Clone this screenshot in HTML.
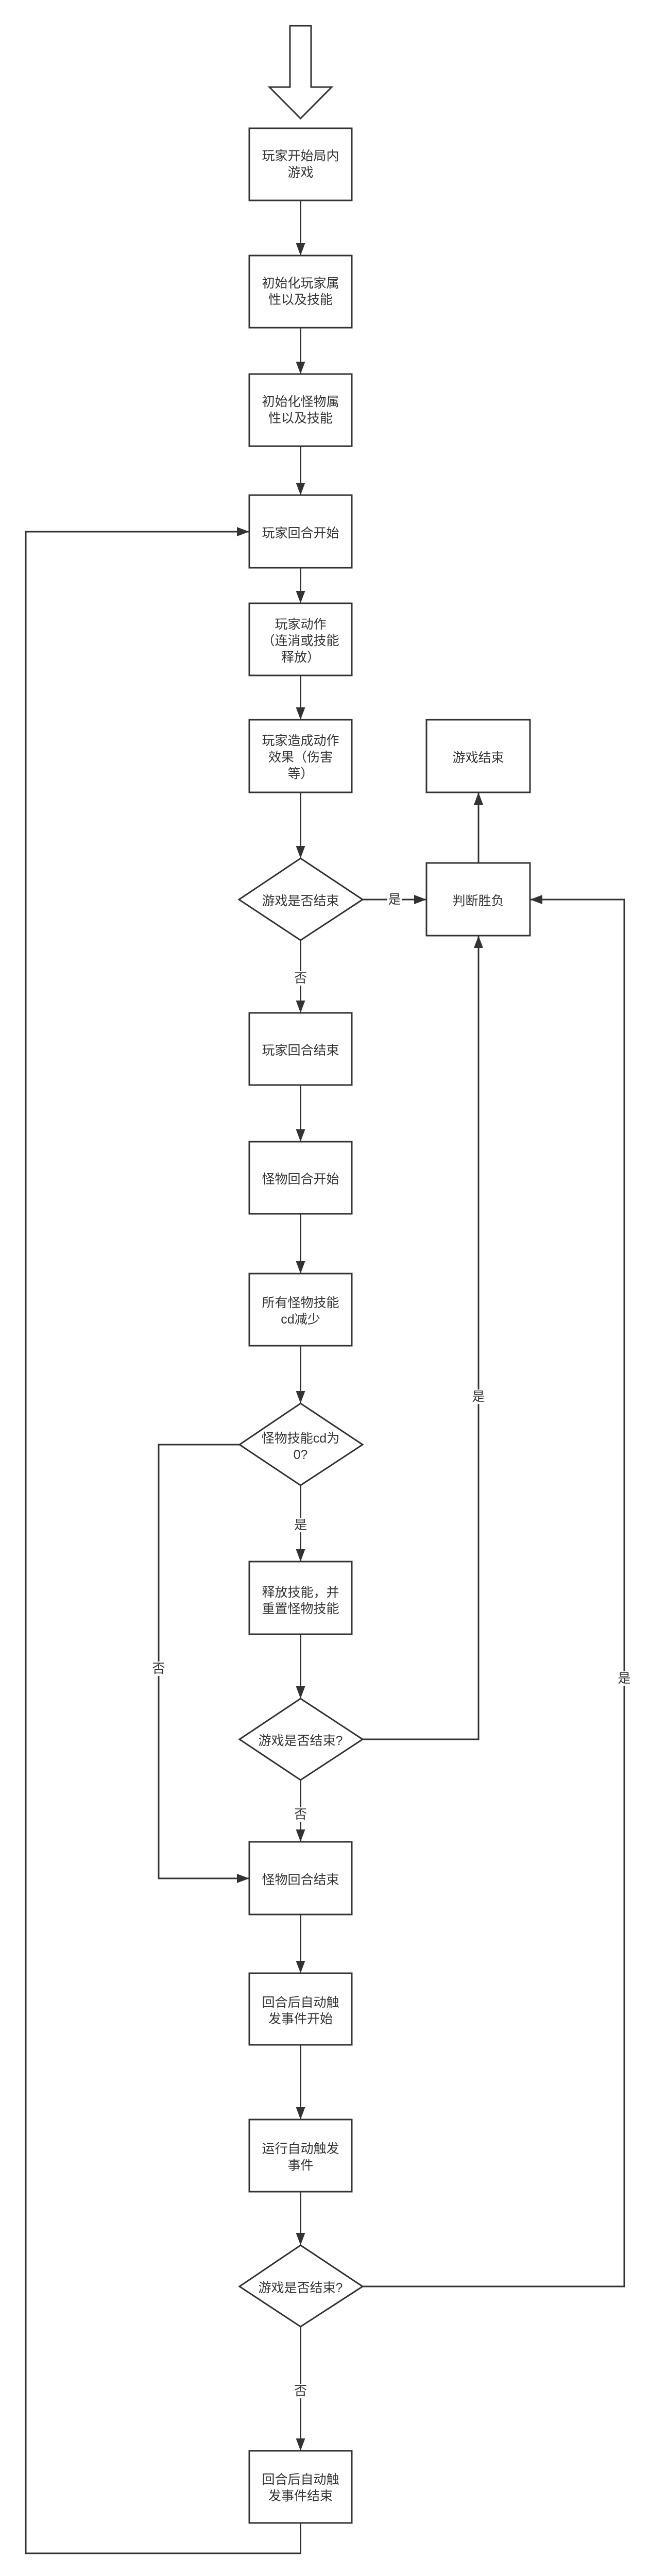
<!DOCTYPE html>
<html><head><meta charset="utf-8"><style>
html,body{margin:0;padding:0;background:#fff;width:1262px;height:5008px;overflow:hidden;}
svg{display:block;}
text{font-family:"Liberation Sans","Noto Sans CJK SC",sans-serif;font-size:25px;fill:#333;text-anchor:middle;dominant-baseline:central;}
</style></head><body>
<svg width="1262" height="5008" viewBox="0 0 1262 5008" xmlns="http://www.w3.org/2000/svg">
<defs>
<marker id="a" markerUnits="userSpaceOnUse" markerWidth="26" markerHeight="22" refX="24" refY="10" orient="auto" viewBox="0 0 26 22">
<path d="M0,1 L24,10 L0,19 Z" fill="#333"/>
</marker>
</defs>
<g fill="none" stroke="#333" stroke-width="3">
<path d="M563,50 L604,50 L604,169 L644,169 L583.5,230 L523,169 L563,169 Z" fill="#fff"/>
<rect x="484" y="249" width="199" height="140" fill="#fff"/>
<rect x="484" y="496" width="199" height="140" fill="#fff"/>
<rect x="484" y="726" width="199" height="140" fill="#fff"/>
<rect x="484" y="961" width="199" height="141" fill="#fff"/>
<rect x="484" y="1171" width="199" height="140" fill="#fff"/>
<rect x="484" y="1397" width="199" height="141" fill="#fff"/>
<rect x="828" y="1397" width="201" height="141" fill="#fff"/>
<rect x="828" y="1675" width="201" height="141" fill="#fff"/>
<rect x="484" y="1966" width="199" height="140" fill="#fff"/>
<rect x="484" y="2216" width="199" height="140" fill="#fff"/>
<rect x="484" y="2472" width="199" height="140" fill="#fff"/>
<rect x="484" y="3031" width="199" height="141" fill="#fff"/>
<rect x="484" y="3575" width="199" height="141" fill="#fff"/>
<rect x="484" y="3830" width="199" height="139" fill="#fff"/>
<rect x="484" y="4114" width="199" height="140" fill="#fff"/>
<rect x="484" y="4757" width="199" height="140" fill="#fff"/>
<path d="M583.5,1666 L704,1746 L583.5,1825 L464,1746 Z" fill="#fff"/>
<path d="M583.5,2724 L704,2804 L583.5,2883 L465,2804 Z" fill="#fff"/>
<path d="M583.5,3297 L704,3376 L583.5,3455 L465,3376 Z" fill="#fff"/>
<path d="M583.5,4358 L704,4438 L583.5,4516 L465,4438 Z" fill="#fff"/>
<path d="M583.5,389 L583.5,496" marker-end="url(#a)"/>
<path d="M583.5,636 L583.5,726" marker-end="url(#a)"/>
<path d="M583.5,866 L583.5,961" marker-end="url(#a)"/>
<path d="M583.5,1102 L583.5,1171" marker-end="url(#a)"/>
<path d="M583.5,1311 L583.5,1397" marker-end="url(#a)"/>
<path d="M583.5,1538 L583.5,1666" marker-end="url(#a)"/>
<path d="M583.5,1825 L583.5,1966" marker-end="url(#a)"/>
<path d="M583.5,2106 L583.5,2216" marker-end="url(#a)"/>
<path d="M583.5,2356 L583.5,2472" marker-end="url(#a)"/>
<path d="M583.5,2612 L583.5,2724" marker-end="url(#a)"/>
<path d="M583.5,2883 L583.5,3031" marker-end="url(#a)"/>
<path d="M583.5,3172 L583.5,3297" marker-end="url(#a)"/>
<path d="M583.5,3455 L583.5,3575" marker-end="url(#a)"/>
<path d="M583.5,3716 L583.5,3830" marker-end="url(#a)"/>
<path d="M583.5,3969 L583.5,4114" marker-end="url(#a)"/>
<path d="M583.5,4254 L583.5,4358" marker-end="url(#a)"/>
<path d="M583.5,4516 L583.5,4757" marker-end="url(#a)"/>
<path d="M704,1746 L828,1746" marker-end="url(#a)"/>
<path d="M929,1675 L929,1538" marker-end="url(#a)"/>
<path d="M704,3376 L929,3376 L929,1816" marker-end="url(#a)"/>
<path d="M704,4438 L1212,4438 L1212,1746 L1029,1746" marker-end="url(#a)"/>
<path d="M465,2804 L308,2804 L308,3646 L484,3646" marker-end="url(#a)"/>
<path d="M583.5,4897 L583.5,4956 L50,4956 L50,1032 L484,1032" marker-end="url(#a)"/>
</g>
<g fill="#fff">
<rect x="752" y="1732" width="28" height="28"/>
<rect x="570" y="1885" width="28" height="28"/>
<rect x="915" y="2697" width="28" height="28"/>
<rect x="570" y="2946" width="28" height="28"/>
<rect x="294" y="3225" width="28" height="28"/>
<rect x="570" y="3508" width="28" height="28"/>
<rect x="1198" y="3244" width="28" height="28"/>
<rect x="570" y="4627" width="28" height="28"/>
</g>
<text x="766" y="1746">是</text>
<text x="583.5" y="1899">否</text>
<text x="929" y="2711">是</text>
<text x="583.5" y="2960">是</text>
<text x="308" y="3239">否</text>
<text x="583.5" y="3522">否</text>
<text x="1212" y="3258">是</text>
<text x="583.5" y="4641">否</text>
<text x="583.5" y="303">玩家开始局内</text><text x="583.5" y="335">游戏</text>
<text x="583.5" y="550">初始化玩家属</text><text x="583.5" y="582">性以及技能</text>
<text x="583.5" y="780">初始化怪物属</text><text x="583.5" y="812">性以及技能</text>
<text x="583.5" y="1035">玩家回合开始</text>
<text x="583.5" y="1212">玩家动作</text><text x="583.5" y="1244">（连消或技能</text><text x="583.5" y="1276">释放）</text>
<text x="583.5" y="1438">玩家造成动作</text><text x="583.5" y="1470">效果（伤害</text><text x="583.5" y="1502">等）</text>
<text x="928.5" y="1471">游戏结束</text>
<text x="928.5" y="1749">判断胜负</text>
<text x="583.5" y="1749">游戏是否结束</text>
<text x="583.5" y="2039">玩家回合结束</text>
<text x="583.5" y="2289">怪物回合开始</text>
<text x="583.5" y="2529">所有怪物技能</text><text x="583.5" y="2561">cd减少</text>
<text x="583.5" y="2792">怪物技能cd为</text><text x="583.5" y="2824">0?</text>
<text x="583.5" y="3091">释放技能，并</text><text x="583.5" y="3123">重置怪物技能</text>
<text x="583.5" y="3379">游戏是否结束?</text>
<text x="583.5" y="3649">怪物回合结束</text>
<text x="583.5" y="3887">回合后自动触</text><text x="583.5" y="3919">发事件开始</text>
<text x="583.5" y="4171">运行自动触发</text><text x="583.5" y="4203">事件</text>
<text x="583.5" y="4441">游戏是否结束?</text>
<text x="583.5" y="4813">回合后自动触</text><text x="583.5" y="4845">发事件结束</text>
</svg>
</body></html>
